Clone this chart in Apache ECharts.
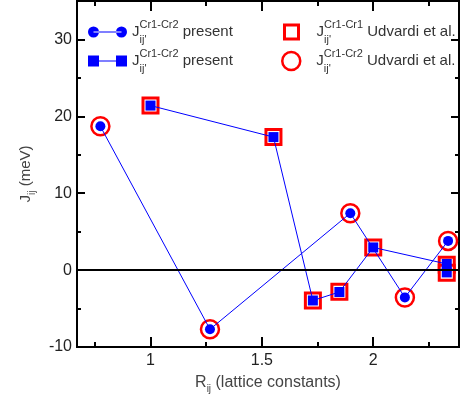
<!DOCTYPE html>
<html>
<head>
<meta charset="utf-8">
<script src="https://cdn.jsdelivr.net/npm/echarts@6/dist/echarts.min.js"></script>
<style>
  html, body { margin: 0; padding: 0; background: #fff; }
  #chart { width: 464px; height: 401px; }
</style>
</head>
<body>
<div id="chart"></div>
<script>
// J_ij^{Cr1-Cr2} present (blue circles)
const circPresentX = [0.775, 1.267, 1.897, 2.142, 2.336];
const circPresentY = [18.7, -7.7, 7.4, -3.55, 3.8];
// J_ij^{Cr1-Cr2} present (blue squares)
const sqPresentX = [1.0, 1.552, 1.729, 1.848, 2.0, 2.33, 2.33];
const sqPresentY = [21.4, 17.3, -3.95, -2.85, 2.95, 0.8, -0.3];
// Udvardi et al. Cr1-Cr1 (red squares)
const udvSqX = [1.0, 1.552, 1.729, 1.848, 2.0, 2.33, 2.33];
const udvSqY = [21.4, 17.3, -3.95, -2.8, 2.95, 0.7, -0.35];
// Udvardi et al. Cr1-Cr2 (red circles)
const udvCircX = [0.775, 1.267, 1.897, 2.142, 2.336];
const udvCircY = [18.7, -7.7, 7.4, -3.55, 3.8];

const xMajor = [1, 1.5, 2];
const xMinor = [0.75, 1.25, 1.75, 2.25];
const yMajor = [-10, 0, 10, 20, 30];
const yMinor = [-5, 5, 15, 25];
const X_MIN = 0.67, X_MAX = 2.385, Y_MIN = -10, Y_MAX = 35;

const zip = (xs, ys) => xs.map((x, i) => [x, ys[i]]);

const FONT = "Liberation Sans";
const BLUE = "#0000ff";
const RED = "#ff0000";

const names = {
  circ: "Cr1-Cr2 present (circles)",
  sq: "Cr1-Cr2 present (squares)",
  udvSq: "Cr1-Cr1 Udvardi et al.",
  udvCirc: "Cr1-Cr2 Udvardi et al.",
};
const legendText = {};
legendText[names.circ] = "{j|J}{sub|ij'}{sup|Cr1-Cr2} present";
legendText[names.sq] = "{j|J}{sub|ij'}{sup|Cr1-Cr2} present";
legendText[names.udvSq] = "{j|J}{sub|ij'}{sup|Cr1-Cr1} Udvardi et al.";
legendText[names.udvCirc] = "{j|J}{sub|ij'}{sup|Cr1-Cr2} Udvardi et al.";

const legendRich = {
  j: { fontSize: 15, lineHeight: 26, fontFamily: FONT, color: "#333" },
  sup: { fontSize: 11, lineHeight: 13, verticalAlign: "top", fontFamily: FONT, color: "#333" },
  sub: { fontSize: 11, lineHeight: 15, verticalAlign: "bottom", width: 0, fontFamily: FONT, color: "#333" },
};

function legendBase(extra) {
  return Object.assign({
    orient: "vertical",
    padding: 0,
    itemGap: 3,
    selectedMode: false,
    formatter: (n) => legendText[n],
    textStyle: { fontSize: 15, fontFamily: FONT, color: "#333", lineHeight: 26, rich: legendRich },
  }, extra);
}

function xAxisDef(pos, ticks, len, withLabel) {
  return {
    type: "value",
    position: pos,
    min: X_MIN,
    max: X_MAX,
    axisLine: { show: true, onZero: false, lineStyle: { color: "#000", width: 2 } },
    axisTick: { show: true, inside: true, length: len, customValues: ticks, lineStyle: { color: "#000", width: 2 } },
    axisLabel: withLabel
      ? { show: true, customValues: ticks, margin: 6, fontSize: 16, fontFamily: FONT, color: "#222" }
      : { show: false },
    splitLine: { show: false },
  };
}
function yAxisDef(pos, ticks, len, withLabel) {
  return {
    type: "value",
    position: pos,
    min: Y_MIN,
    max: Y_MAX,
    axisLine: { show: true, onZero: false, lineStyle: { color: "#000", width: 2 } },
    axisTick: { show: true, inside: true, length: len, customValues: ticks, lineStyle: { color: "#000", width: 2 } },
    axisLabel: withLabel
      ? { show: true, customValues: ticks, margin: 5, fontSize: 16, fontFamily: FONT, color: "#222" }
      : { show: false },
    splitLine: { show: false },
  };
}

const xMain = xAxisDef("bottom", xMajor, 10, true);
xMain.name = "{m|R}{s|ij}{m| (lattice constants)}";
xMain.nameLocation = "middle";
xMain.nameGap = 25;
xMain.nameTextStyle = {
  fontFamily: FONT, fontSize: 16, color: "#444",
  rich: {
    m: { fontSize: 16, lineHeight: 22, fontFamily: FONT, color: "#444" },
    s: { fontSize: 10, lineHeight: 10, verticalAlign: "bottom", fontFamily: FONT, color: "#444" },
  },
};

const yMain = yAxisDef("left", yMajor, 8, true);
yMain.name = "{m|J}{s|ij}{m| (meV)}";
yMain.nameLocation = "middle";
yMain.nameGap = 40;
yMain.nameTextStyle = {
  fontFamily: FONT, fontSize: 15, color: "#444",
  rich: {
    m: { fontSize: 15, lineHeight: 22, fontFamily: FONT, color: "#444" },
    s: { fontSize: 10, lineHeight: 10, verticalAlign: "bottom", fontFamily: FONT, color: "#444" },
  },
};

const chart = echarts.init(document.getElementById("chart"));
chart.setOption({
  animation: false,
  backgroundColor: "#fff",
  grid: { left: 77, right: 5, top: 1, bottom: 54, containLabel: false },
  xAxis: [
    xMain,
    xAxisDef("bottom", xMinor, 5, false),
    xAxisDef("top", xMajor, 10, false),
    xAxisDef("top", xMinor, 5, false),
  ],
  yAxis: [
    yMain,
    yAxisDef("left", yMinor, 4, false),
    yAxisDef("right", yMajor, 8, false),
    yAxisDef("right", yMinor, 4, false),
  ],
  legend: [
    legendBase({
      left: 88, top: 19, itemWidth: 39, itemHeight: 11,
      data: [
        { name: names.circ, icon: "path://M0,5.5A5.5,5.5,0,1,0,11,5.5A5.5,5.5,0,1,0,0,5.5Z M28,5.5A5.5,5.5,0,1,0,39,5.5A5.5,5.5,0,1,0,28,5.5Z M5.5,5H33.5V6H5.5Z" },
        { name: names.sq, icon: "path://M0,0H11V11H0Z M28,0H39V11H28Z M5.5,5H33.5V6H5.5Z" },
      ],
    }),
    legendBase({
      left: 283, top: 19, itemWidth: 14, itemHeight: 14,
      itemStyle: { borderWidth: 3 },
      textStyle: { fontSize: 15, fontFamily: FONT, color: "#333", lineHeight: 26, rich: legendRich, padding: [0, 0, 0, 13] },
      data: [{ name: names.udvSq, icon: "rect" }],
    }),
    legendBase({
      left: 281, top: 48, itemWidth: 18, itemHeight: 18,
      itemStyle: { borderWidth: 2.5 },
      textStyle: { fontSize: 15, fontFamily: FONT, color: "#333", lineHeight: 26, rich: legendRich, padding: [0, 0, 0, 11] },
      data: [{ name: names.udvCirc, icon: "circle" }],
    }),
  ],
  series: [
    {
      name: names.udvSq,
      type: "scatter",
      z: 2,
      symbol: "rect",
      symbolSize: 15,
      itemStyle: { color: "#fff", borderColor: RED, borderWidth: 3, opacity: 1 },
      data: zip(udvSqX, udvSqY),
    },
    {
      name: names.udvCirc,
      type: "scatter",
      z: 2,
      symbol: "circle",
      symbolSize: 18,
      itemStyle: { color: "#fff", borderColor: RED, borderWidth: 2.5, opacity: 1 },
      data: zip(udvCircX, udvCircY),
    },
    {
      name: names.circ,
      type: "line",
      z: 3,
      symbol: "circle",
      symbolSize: 10,
      showAllSymbol: true,
      lineStyle: { color: BLUE, width: 1 },
      itemStyle: { color: BLUE, borderWidth: 0 },
      data: zip(circPresentX, circPresentY),
      markLine: {
        silent: true,
        symbol: "none",
        z: 6,
        label: { show: false },
        lineStyle: { color: "#000", width: 2, type: "solid" },
        data: [{ yAxis: 0 }],
      },
    },
    {
      name: names.sq,
      type: "line",
      z: 3,
      symbol: "rect",
      symbolSize: 10,
      showAllSymbol: true,
      lineStyle: { color: BLUE, width: 1 },
      itemStyle: { color: BLUE, borderWidth: 0 },
      data: zip(sqPresentX, sqPresentY),
    },
  ],
});
</script>
</body>
</html>
